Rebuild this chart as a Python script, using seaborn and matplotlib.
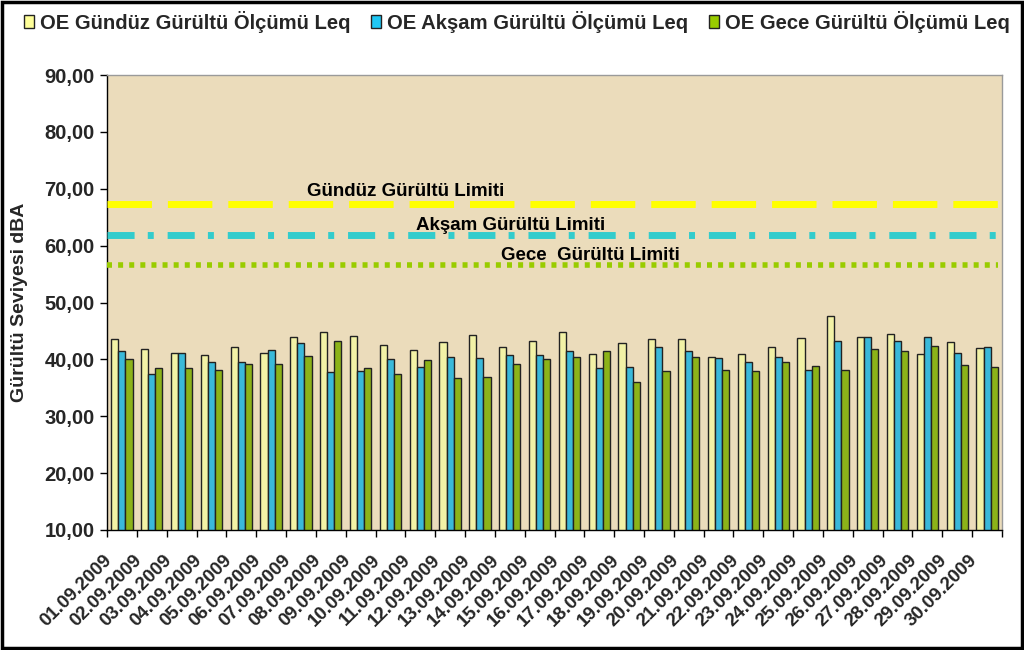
import matplotlib
matplotlib.use("Agg")
import matplotlib.pyplot as plt
import matplotlib.patches as mpatches
from matplotlib.ticker import FixedLocator, FuncFormatter
import seaborn as sns
import pandas as pd
import numpy as np

dates = ["%02d.09.2009" % d for d in range(1, 31)]

gunduz = [43.5, 41.9, 41.2, 40.8, 42.1, 41.2, 43.9, 44.8, 44.1, 42.6,
          41.7, 43.0, 44.2, 42.1, 43.3, 44.9, 41.0, 42.8, 43.5, 43.5,
          40.5, 41.0, 42.1, 43.8, 47.6, 43.9, 44.5, 41.0, 43.0, 42.0]
aksam = [41.5, 37.5, 41.2, 39.6, 39.5, 41.7, 42.8, 37.7, 38.0, 40.1,
         38.6, 40.4, 40.2, 40.8, 40.8, 41.4, 38.4, 38.7, 42.2, 41.5,
         40.3, 39.6, 40.5, 38.2, 43.3, 43.9, 43.3, 43.9, 41.1, 42.2]
gece = [40.0, 38.4, 38.4, 38.2, 39.1, 39.2, 40.6, 43.2, 38.5, 37.5,
        39.9, 36.8, 36.9, 39.1, 40.0, 40.5, 41.5, 36.1, 37.9, 40.5,
        38.1, 37.9, 39.5, 38.9, 38.2, 41.8, 41.4, 42.4, 39.0, 38.7]

series_names = ["OE Gündüz Gürültü Ölçümü Leq",
                "OE Akşam Gürültü Ölçümü Leq",
                "OE Gece Gürültü Ölçümü Leq"]
series_colors = ["#FFFF99", "#1FC8F5", "#99CC00"]

limit_names = ["Gündüz Gürültü Limiti", "Akşam Gürültü Limiti", "Gece  Gürültü Limiti"]
limit_values = [67.3, 61.8, 56.6]
limit_colors = ["#FFFF00", "#33CCCC", "#99CC00"]

df = pd.DataFrame({
    "date": dates * 3,
    "value": gunduz + aksam + gece,
    "series": [series_names[0]] * 30 + [series_names[1]] * 30 + [series_names[2]] * 30,
})

sns.set_theme(style="white")
plt.rcParams["font.family"] = ["Liberation Sans", "DejaVu Sans"]

fig = plt.figure(figsize=(10.24, 6.5), dpi=100)
ax = fig.add_axes([107 / 1024, 1 - 530 / 650, 895 / 1024, 455 / 650])
ax.set_facecolor("#EBDCBB")

sns.barplot(data=df, x="date", y="value", hue="series", hue_order=series_names,
            palette=series_colors, edgecolor="#222222", linewidth=1.0,
            width=0.72, ax=ax, errorbar=None, legend=True)

ax.set_ylim(10, 90)
ax.set_xlim(-0.5, 29.5)
ax.set_yticks(np.arange(10, 91, 10))
ax.yaxis.set_major_formatter(FuncFormatter(lambda v, p: ("%.2f" % v).replace(".", ",")))

# limit lines
styles = [(0, (6.4, 2.3)), (0, (3.9, 1.9, 0.86, 2.0)), (0, (0.9, 1.1))]
widths = [5.0, 5.0, 4.0]
for val, col, ls, lw in zip(limit_values, limit_colors, styles, widths):
    ax.axhline(val, xmin=0.0, xmax=0.995, color=col, linestyle=ls, linewidth=lw,
               zorder=3, dash_capstyle="butt")

label_pos = [(9.5, 69.45), (13.04, 63.6), (15.7, 58.2)]
for name, (xp, yp) in zip(limit_names, label_pos):
    ax.text(xp, yp, name, ha="center", va="center", fontsize=13.5, fontweight="bold",
            color="black", zorder=4)

# ticks: rotated labels end slightly left of group centre, as in the original
ax.set_xticks(np.arange(30) - 0.42)
ax.set_xticklabels(dates, rotation=45, ha="right", va="center", rotation_mode="anchor",
                   fontsize=13.5, fontweight="bold")
ax.xaxis.set_minor_locator(FixedLocator(np.arange(-0.5, 30, 1)))
ax.tick_params(axis="x", which="major", length=0, pad=20)
ax.tick_params(axis="x", which="minor", length=5, width=1, color="black", direction="out", bottom=True)
ax.tick_params(axis="y", which="major", length=5, width=1, color="black", direction="out",
               left=True, labelsize=14.5, pad=4)
for lab in ax.get_yticklabels():
    lab.set_fontweight("bold")

ax.set_xlabel("")
ax.set_ylabel("Gürültü Seviyesi dBA", fontsize=14, fontweight="bold")
ax.yaxis.set_label_coords(-79 / 895, 0.5)

for s in ["top", "right"]:
    ax.spines[s].set_color("#9A9A9A")
    ax.spines[s].set_linewidth(1)
for s in ["left", "bottom"]:
    ax.spines[s].set_color("black")
    ax.spines[s].set_linewidth(1)

# legend
ax.get_legend().remove()
handles = [mpatches.Patch(facecolor=c, edgecolor="#222222", linewidth=1.0, label=n)
           for c, n in zip(series_colors, series_names)]
fig.legend(handles=handles, loc="center", bbox_to_anchor=(0.505, 1 - 22 / 650), ncol=3,
           frameon=False, prop={"size": 14.6, "weight": "bold"}, handlelength=0.5,
           handleheight=0.6, handletextpad=0.3, columnspacing=1.0, borderaxespad=0)

# outer frame
fig.patches.append(mpatches.Rectangle((0.002, 0.003), 0.996, 0.994, transform=fig.transFigure,
                                      fill=False, edgecolor="black", linewidth=2.5))

fig.savefig("out.png", dpi=100)
